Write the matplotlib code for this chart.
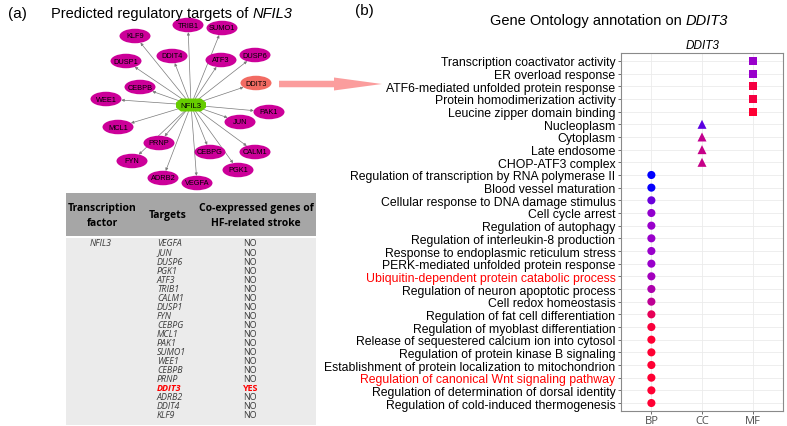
import numpy as np
import matplotlib.pyplot as plt
from matplotlib.patches import Ellipse, Polygon, Rectangle, FancyArrow
from matplotlib.colors import LinearSegmentedColormap

plt.rcParams['font.family'] = ['Liberation Sans', 'DejaVu Sans']

# network: hub and target layout (in panel pixel units)
hub = 'NFIL3'
hub_x, hub_y = 191, 106
genes = ['TRIB1', 'SUMO1', 'KLF9', 'DDIT4', 'ATF3', 'DUSP6', 'DUSP1', 'CEBPB', 'DDIT3', 'WEE1',
         'PAK1', 'JUN', 'MCL1', 'PRNP', 'CEBPG', 'CALM1', 'FYN', 'PGK1', 'ADRB2', 'VEGFA']
gene_x = [188, 222, 135, 172, 221, 255, 126, 140, 256, 106, 269, 240, 118, 159, 210, 255, 132, 238, 163, 197]
gene_y = [26, 29, 37, 57, 61, 56, 62, 88, 84, 100, 113, 123, 128, 144, 153, 153, 162, 171, 179, 184]
highlight_gene = 'DDIT3'

# table
tf_name = 'NFIL3'
targets = ['VEGFA', 'JUN', 'DUSP6', 'PGK1', 'ATF3', 'TRIB1', 'CALM1', 'DUSP1', 'FYN', 'CEBPG',
           'MCL1', 'PAK1', 'SUMO1', 'WEE1', 'CEBPB', 'PRNP', 'DDIT3', 'ADRB2', 'DDIT4', 'KLF9']
coexpressed = ['NO', 'NO', 'NO', 'NO', 'NO', 'NO', 'NO', 'NO', 'NO', 'NO',
               'NO', 'NO', 'NO', 'NO', 'NO', 'NO', 'YES', 'NO', 'NO', 'NO']

# GO annotation of DDIT3
terms = ['Transcription coactivator activity', 'ER overload response',
         'ATF6-mediated unfolded protein response', 'Protein homodimerization activity',
         'Leucine zipper domain binding', 'Nucleoplasm', 'Cytoplasm', 'Late endosome',
         'CHOP-ATF3 complex', 'Regulation of transcription by RNA polymerase II',
         'Blood vessel maturation', 'Cellular response to DNA damage stimulus',
         'Cell cycle arrest', 'Regulation of autophagy', 'Regulation of interleukin-8 production',
         'Response to endoplasmic reticulum stress', 'PERK-mediated unfolded protein response',
         'Ubiquitin-dependent protein catabolic process', 'Regulation of neuron apoptotic process',
         'Cell redox homeostasis', 'Regulation of fat cell differentiation',
         'Regulation of myoblast differentiation', 'Release of sequestered calcium ion into cytosol',
         'Regulation of protein kinase B signaling',
         'Establishment of protein localization to mitochondrion',
         'Regulation of canonical Wnt signaling pathway',
         'Regulation of determination of dorsal identity',
         'Regulation of cold-induced thermogenesis']
ontology = ['MF', 'MF', 'MF', 'MF', 'MF', 'CC', 'CC', 'CC', 'CC',
            'BP', 'BP', 'BP', 'BP', 'BP', 'BP', 'BP', 'BP', 'BP', 'BP',
            'BP', 'BP', 'BP', 'BP', 'BP', 'BP', 'BP', 'BP', 'BP']
score = [0.5, 0.5, 0.95, 0.95, 1.0, 0.3, 0.7, 0.72, 0.72,
         0.0, 0.02, 0.35, 0.48, 0.5, 0.5, 0.5, 0.5, 0.55, 0.6,
         0.68, 0.88, 0.97, 1.0, 1.0, 1.0, 1.0, 1.0, 1.0]
red_terms = ['Ubiquitin-dependent protein catabolic process',
             'Regulation of canonical Wnt signaling pathway']
categories = ['BP', 'CC', 'MF']

fig = plt.figure(figsize=(7.87, 4.27), dpi=100)
renderer = fig.canvas.get_renderer()

# background canvas in pixel units for panel (a)
bg = fig.add_axes([0, 0, 1, 1])
bg.set_xlim(0, 787)
bg.set_ylim(427, 0)
bg.axis('off')


def title_with_gene(xc, y, plain, gene, size):
    # plain words followed by an italic gene name, centred on xc
    t1 = bg.text(0, y, plain, fontsize=size, va='center')
    t2 = bg.text(0, y, gene, fontsize=size, style='italic', va='center')
    w1 = t1.get_window_extent(renderer).width
    w2 = t2.get_window_extent(renderer).width
    gap = 0.278 * size * 100 / 72
    x0 = xc - (w1 + gap + w2) / 2
    t1.set_x(x0)
    t2.set_x(x0 + w1 + gap)


bg.text(8, 14, '(a)', fontsize=11, va='center')
title_with_gene(172, 14, 'Predicted regulatory targets of', 'NFIL3', 10.5)
bg.text(355, 11, '(b)', fontsize=11, va='center')
title_with_gene(609, 21, 'Gene Ontology annotation on', 'DDIT3', 10.5)

# edges
a, b = 15.5, 7.2
ha_, hb_ = 15, 6.5
for g, x, y in zip(genes, gene_x, gene_y):
    dx, dy = x - hub_x, y - hub_y
    d = np.hypot(dx, dy)
    ux, uy = dx / d, dy / d
    r_end = 1 / np.sqrt((ux / a) ** 2 + (uy / b) ** 2)
    r_st = 1 / np.sqrt((ux / ha_) ** 2 + (uy / hb_) ** 2)
    bg.annotate('', xy=(x - ux * r_end, y - uy * r_end),
                xytext=(hub_x + ux * r_st, hub_y + uy * r_st),
                arrowprops=dict(arrowstyle='-|>', color='#7a7a7a', lw=0.5,
                                mutation_scale=4, shrinkA=0, shrinkB=0), zorder=1)

# nodes
for g, x, y in zip(genes, gene_x, gene_y):
    col = '#f26b63' if g == highlight_gene else '#cc0099'
    bg.add_patch(Ellipse((x, y), 31, 14.5, facecolor=col, edgecolor='none', zorder=2))
    bg.text(x, y, g, fontsize=5.3, ha='center', va='center', zorder=3)

octa = [(-15, -2.5), (-10, -6.5), (10, -6.5), (15, -2.5), (15, 2.5), (10, 6.5), (-10, 6.5), (-15, 2.5)]
bg.add_patch(Polygon([(hub_x + px, hub_y + py) for px, py in octa], closed=True,
                     facecolor='#66cc00', edgecolor='none', zorder=2))
bg.text(hub_x, hub_y, hub, fontsize=5.6, ha='center', va='center', zorder=3)

# pink arrow to panel (b)
bg.add_patch(FancyArrow(279, 85, 103, 0, width=6.5, head_width=13, head_length=48,
                        length_includes_head=True, color='#fb9d9d', lw=0, zorder=2))

# table
tfont = ['Open Sans', 'DejaVu Sans']
bg.add_patch(Rectangle((66, 194), 250, 43, facecolor='#a6a6a6', edgecolor='none'))
bg.add_patch(Rectangle((66, 238.5), 250, 187, facecolor='#ebebeb', edgecolor='none'))
bg.text(102, 216, 'Transcription\nfactor', family=tfont, fontsize=7.5, fontweight='bold',
        ha='center', va='center', linespacing=1.6)
bg.text(168, 216, 'Targets', family=tfont, fontsize=7.5, fontweight='bold',
        ha='center', va='center')
bg.text(256, 216, 'Co-expressed genes of\nHF-related stroke', family=tfont, fontsize=7.5,
        fontweight='bold', ha='center', va='center', linespacing=1.6)
bg.text(90, 244, tf_name, family=tfont, fontsize=6.4, style='italic', color='#3a3a3a',
        va='center')
for i, (t, c) in enumerate(zip(targets, coexpressed)):
    yy = 244 + i * 9.05
    hit = c == 'YES'
    col = '#ff0000' if hit else '#3a3a3a'
    w = 'bold' if hit else 'normal'
    bg.text(157, yy, t, family=tfont, fontsize=6.4, style='italic', color=col,
            fontweight=w, va='center')
    bg.text(243, yy, c, family=tfont, fontsize=6.4, color=col, fontweight=w, va='center')

# panel (b): GO dot plot
cmap = LinearSegmentedColormap.from_list('go', ['#0000ff', '#9900cc', '#ff0033'])
markers = {'BP': 'o', 'CC': '^', 'MF': 's'}
sizes = {'BP': 34, 'CC': 42, 'MF': 32}

ax = fig.add_axes([621 / 787, 1 - 412 / 427, 162 / 787, 358 / 427])
rows = np.arange(1, len(terms) + 1)
xs = np.array([categories.index(o) for o in ontology])
for cat in categories:
    m = np.array(ontology) == cat
    ax.scatter(xs[m], rows[m], c=np.array(score)[m], cmap=cmap, vmin=0, vmax=1,
               marker=markers[cat], s=sizes[cat], linewidths=0, zorder=3)

ax.set_xlim(-0.6, 2.6)
ax.set_ylim(len(terms) + 0.63, 0.37)
ax.set_xticks(range(len(categories)))
ax.set_xticklabels(categories, family=tfont, fontsize=8, color='#4d4d4d')
ax.set_yticks(rows)
ax.set_yticklabels(terms, fontsize=8.8)
for lab in ax.get_yticklabels():
    if lab.get_text() in red_terms:
        lab.set_color('#ff0000')
ax.grid(True, color='#ebebeb', lw=0.6, zorder=0)
ax.set_axisbelow(True)
ax.tick_params(axis='y', length=2.5, width=0.6, color='#555555', pad=1.5)
ax.tick_params(axis='x', length=2.5, width=0.6, color='#555555', pad=0.5)
for s in ax.spines.values():
    s.set_color('#8a8a8a')
    s.set_linewidth(0.8)

bg.text(703, 46, 'DDIT3', fontsize=8.5, style='italic', ha='center', va='center')

fig.savefig('out.png', dpi=100)
